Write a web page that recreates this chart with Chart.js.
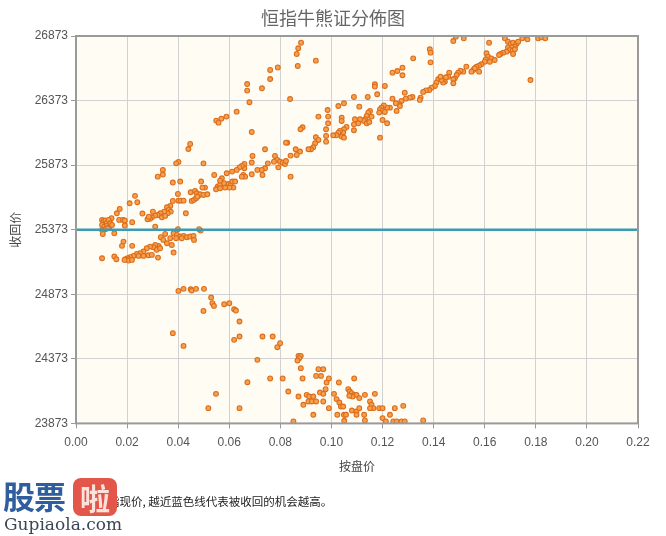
<!DOCTYPE html>
<html>
<head>
<meta charset="utf-8">
<script src="https://cdn.jsdelivr.net/npm/chart.js@4.4.1/dist/chart.umd.min.js"></script>
<style>
  html, body { margin: 0; padding: 0; background: #fff; }
  #wrap { position: relative; width: 666px; height: 536px; overflow: hidden; }
  #note {
    position: absolute; left: 108px; top: 493px;
    font: 11.5px 'Noto Sans CJK SC', sans-serif; color: #222; white-space: nowrap;
  }
  #logo { position: absolute; left: 3px; top: 476px; width: 116px; height: 60px; }
  #logo .gp { position: absolute; left: 0; top: 0; font: bold 32px 'Noto Sans CJK SC', sans-serif; color: #2f5d9e; letter-spacing: -1px; line-height: 38px; }
  #logo .la {
    position: absolute; left: 70px; top: 2px; width: 44px; height: 38px; border-radius: 8px;
    background: #e3574a; color: #fbe3dc; text-align: center;
    font: bold 30px 'Noto Sans CJK SC', sans-serif; line-height: 38px;
  }
  #logo .url { position: absolute; left: 1px; top: 38px; font: 17px 'DejaVu Serif', serif; color: #3a4656; letter-spacing: 0px; }
</style>
</head>
<body>
<div id="wrap">
  <canvas id="chart-cbbc" width="666" height="536"></canvas>
  <div id="note">指现价, 越近蓝色线代表被收回的机会越高。</div>
  <div id="logo"><span class="gp">股票</span><span class="la">啦</span><span class="url">Gupiaola.com</span></div>
</div>
<script>
// 收回价 vs 按盘价
const spotLevel = 25373;
const xTicks = [0, 0.02, 0.04, 0.06, 0.08, 0.10, 0.12, 0.14, 0.16, 0.18, 0.20, 0.22];
const yTicks = [23873, 24373, 24873, 25373, 25873, 26373, 26873];

// certificates with call level above the blue line
const bearPoints = [
  [0.0447,26037],[0.0440,25998],[0.0401,25898],[0.0392,25887],[0.0340,25836],[0.0340,25800],[0.0320,25784],
  [0.0379,25738],[0.0408,25746],[0.0541,25797],[0.0499,25887],[0.0490,25746],[0.0505,25699],[0.0495,25699],
  [0.0399,25650],[0.0449,25663],[0.0466,25673],[0.0473,25655],[0.0479,25635],[0.0486,25647],[0.0499,25642],
  [0.0514,25647],[0.0555,25707],[0.0548,25686],[0.0564,25720],[0.0231,25635],[0.0240,25586],[0.0210,25578],
  [0.0379,25596],[0.0401,25598],[0.0410,25598],[0.0421,25598],[0.0453,25596],[0.0462,25604],[0.0470,25616],
  [0.0475,25629],[0.0369,25557],[0.0356,25547],[0.0363,25526],[0.0371,25513],[0.0359,25500],[0.0345,25513],
  [0.0330,25500],[0.0320,25487],[0.0310,25482],[0.0297,25469],[0.0290,25457],[0.0280,25454],[0.0285,25474],
  [0.0301,25513],[0.0260,25498],[0.0171,25534],[0.0160,25500],[0.0139,25462],[0.0169,25449],[0.0184,25449],
  [0.0191,25444],[0.0191,25405],[0.0220,25431],[0.0336,25469],[0.0349,25480],[0.0430,25500],
  [0.0102,25449],[0.0108,25436],[0.0115,25444],[0.0121,25428],[0.0128,25449],[0.0134,25423],[0.0102,25410],
  [0.0111,25397],[0.0121,25402],[0.0131,25392],[0.0141,25410],[0.0115,25377],[0.0124,25384],[0.0310,25397],
  [0.0399,25377],[0.0482,25377],
  [0.0939,26682],[0.0868,26641],[0.0790,26630],[0.0760,26610],[0.0760,26540],[0.0670,26501],[0.0670,26450],
  [0.0728,26468],[0.0679,26360],[0.0838,26385],[0.0629,26287],[0.0589,26249],[0.0569,26233],[0.0549,26218],
  [0.0558,26202],[0.0688,26130],[0.0949,26249],[0.0985,26300],[0.0987,26249],[0.0987,26197],[0.0979,26151],
  [0.0979,26099],[0.0979,26055],[0.0887,26166],[0.0879,26151],[0.0939,26089],[0.0949,26068],[0.0936,26042],
  [0.0929,26011],[0.0920,25996],[0.0910,25996],[0.0877,25978],[0.0864,25952],[0.0860,25996],[0.0840,25947],
  [0.0827,26047],[0.0822,26047],[0.0740,25996],[0.0779,25944],[0.0788,25913],[0.0775,25900],[0.0799,25900],
  [0.0809,25892],[0.0818,25882],[0.0792,25856],[0.0822,25905],[0.0840,25784],[0.0751,25887],[0.0740,25849],
  [0.0727,25836],[0.0710,25836],[0.0688,25802],[0.0688,25893],[0.0691,25944],[0.0659,25882],[0.0659,25849],
  [0.0649,25867],[0.0640,25856],[0.0629,25836],[0.0611,25823],[0.0655,25797],[0.0662,25784],[0.0649,25784],
  [0.0730,25797],[0.0590,25810],[0.0571,25771],[0.0564,25753],[0.0580,25733],[0.0597,25727],[0.0606,25720],
  [0.0612,25746],[0.0623,25746],[0.0616,25699],[0.0601,25699],[0.0584,25699],[0.0564,25694],
  [0.1385,26770],[0.1388,26744],[0.1388,26669],[0.1320,26700],[0.1278,26628],[0.1258,26602],[0.1239,26589],
  [0.1278,26569],[0.1170,26499],[0.1170,26481],[0.1209,26486],[0.1179,26422],[0.1418,26538],[0.1411,26512],
  [0.1405,26486],[0.1392,26473],[0.1383,26455],[0.1370,26452],[0.1359,26440],[0.1349,26396],[0.1346,26378],
  [0.1317,26401],[0.1307,26396],[0.1291,26388],[0.1287,26434],[0.1274,26370],[0.1265,26344],[0.1252,26352],
  [0.1268,26331],[0.1255,26293],[0.1239,26388],[0.1229,26318],[0.1218,26318],[0.1205,26336],[0.1196,26318],
  [0.1190,26305],[0.1200,26293],[0.1187,26280],[0.1209,26285],[0.1218,26197],[0.1200,26223],[0.1190,26086],
  [0.1151,26293],[0.1144,26280],[0.1138,26254],[0.1132,26228],[0.1127,26215],[0.1138,26197],[0.1148,26207],
  [0.1157,26249],[0.1112,26228],[0.1105,26197],[0.1092,26228],[0.1088,26189],[0.1088,26143],[0.1059,26169],
  [0.1040,26241],[0.1040,26215],[0.1049,26151],[0.1046,26125],[0.1033,26138],[0.1027,26125],[0.1020,26104],
  [0.1040,26094],[0.1049,26086],[0.1027,26331],[0.1049,26352],[0.1088,26401],[0.1109,26326],[0.1142,26401],
  [0.1007,26104],[0.0881,26821],[0.0870,26778],[0.0864,26734],
  [0.1477,26834],[0.1487,26868],[0.1518,26855],[0.1617,26821],[0.1679,26855],[0.1747,26855],[0.1767,26847],
  [0.1809,26855],[0.1822,26863],[0.1837,26855],[0.1779,26532],[0.1691,26829],[0.1701,26811],[0.1711,26821],
  [0.1724,26811],[0.1731,26829],[0.1718,26790],[0.1705,26785],[0.1691,26785],[0.1698,26765],[0.1709,26759],
  [0.1718,26770],[0.1685,26752],[0.1672,26744],[0.1662,26734],[0.1656,26726],[0.1711,26734],[0.1607,26739],
  [0.1613,26713],[0.1604,26692],[0.1626,26700],[0.1639,26687],[0.1620,26674],[0.1600,26674],[0.1587,26654],
  [0.1578,26643],[0.1568,26636],[0.1555,26610],[0.1561,26623],[0.1578,26597],[0.1548,26597],[0.1528,26636],
  [0.1516,26597],[0.1505,26605],[0.1496,26589],[0.1490,26571],[0.1483,26545],[0.1477,26538],[0.1477,26507],
  [0.1461,26589],[0.1457,26558],[0.1448,26553],[0.1444,26520],[0.1437,26512],[0.1431,26532],[0.1427,26558],
];

// certificates with call level below the blue line
const bullPoints = [
  [0.0102,25371],[0.0105,25340],[0.0150,25345],[0.0488,25366],[0.0349,25340],[0.0382,25345],[0.0395,25333],
  [0.0408,25320],[0.0421,25325],[0.0434,25315],[0.0447,25320],[0.0460,25325],[0.0332,25315],[0.0342,25294],
  [0.0369,25307],[0.0392,25307],[0.0414,25307],[0.0462,25294],[0.0356,25268],[0.0375,25255],[0.0323,25248],
  [0.0310,25255],[0.0303,25237],[0.0290,25242],[0.0277,25229],[0.0264,25204],[0.0251,25191],[0.0238,25186],
  [0.0245,25170],[0.0225,25170],[0.0212,25160],[0.0202,25152],[0.0193,25144],[0.0206,25134],[0.0219,25139],
  [0.0264,25170],[0.0284,25175],[0.0297,25178],[0.0316,25217],[0.0329,25229],[0.0382,25196],[0.0321,25157],
  [0.0186,25281],[0.0180,25248],[0.0220,25248],[0.0190,25139],[0.0150,25165],[0.0158,25144],[0.0102,25152],
  [0.0401,24899],[0.0421,24915],[0.0449,24912],[0.0453,24902],[0.0470,24915],[0.0501,24915],[0.0529,24848],
  [0.0534,24804],[0.0540,24783],[0.0499,24744],[0.0580,24796],[0.0600,24804],[0.0619,24757],[0.0626,24747],
  [0.0640,24662],[0.0619,24520],[0.0640,24546],[0.0379,24572],[0.0421,24473],[0.0710,24365],[0.0671,24192],
  [0.0548,24102],[0.0518,23991],[0.0640,23991],[0.0730,24546],[0.0770,24546],
  [0.0799,24494],[0.0788,24463],[0.0871,24396],[0.0880,24396],[0.0874,24378],[0.0867,24360],[0.0880,24301],
  [0.0760,24221],[0.0809,24221],[0.0887,24221],[0.0831,24120],[0.0949,24293],[0.0968,24293],[0.0940,24241],
  [0.0959,24241],[0.0981,24190],[0.0990,24221],[0.0977,24138],[0.1029,24190],[0.1089,24221],[0.0871,24081],
  [0.0903,24094],[0.0913,24081],[0.0929,24081],[0.0910,24043],[0.0923,24043],[0.0940,24043],[0.0955,24112],
  [0.0968,24102],[0.0968,24043],[0.0890,24017],[0.0990,23991],[0.0929,23940],[0.0851,23888],[0.1010,24102],
  [0.1020,24061],[0.1031,24035],[0.1037,24004],[0.1046,24004],[0.1023,23940],[0.1049,23940],[0.1057,23940],
  [0.1050,23893],[0.1080,23973],[0.1098,23965],[0.1098,23940],[0.1109,23991],[0.1131,23896],[0.1066,24138],
  [0.1072,24120],[0.1079,24107],[0.1088,24094],[0.1098,24094],[0.1109,24069],[0.1083,24081],[0.1070,24087],
  [0.1131,24094],[0.1170,24102],[0.1151,24043],[0.1157,24017],[0.1164,23991],[0.1151,23991],[0.1187,23991],
  [0.1200,23991],[0.1248,23991],[0.1281,24009],[0.1229,23940],[0.1200,23914],[0.1213,23888],[0.1242,23888],
  [0.1255,23888],[0.1274,23888],[0.1287,23888],[0.1359,23896],[0.1128,23940],
];

const FONT_CJK = "'Noto Sans CJK SC', 'Liberation Sans', sans-serif";
const FONT_NUM = "'Liberation Sans', Arial, sans-serif";

const toXY = (pairs) => pairs.map(([x, y]) => ({ x, y }));

/**
 * Cream plot background and grey frame round the chart area
 */
const plotFrame = {
  id: 'plotFrame',
  beforeDraw(chart) {
    const { ctx, chartArea: a } = chart;
    ctx.save();
    ctx.fillStyle = '#fffdf3';
    ctx.fillRect(a.left, a.top, a.right - a.left, a.bottom - a.top);
    ctx.restore();
  },
  afterDraw(chart) {
    const { ctx, chartArea: a } = chart;
    ctx.save();
    ctx.strokeStyle = '#9a9a9a';
    ctx.lineWidth = 2;
    ctx.strokeRect(a.left, a.top, a.right - a.left, a.bottom - a.top);
    ctx.restore();
  },
};

const pointStyle = {
  pointRadius: 2.4,
  pointBorderWidth: 1.1,
  pointBackgroundColor: '#f6a04c',
  pointBorderColor: '#dc6d1c',
  order: 2,
};

new Chart(document.getElementById('chart-cbbc'), {
  type: 'scatter',
  data: {
    datasets: [
      { label: 'bear', data: toXY(bearPoints), ...pointStyle },
      { label: 'bull', data: toXY(bullPoints), ...pointStyle },
      {
        // current level line
        type: 'line',
        label: 'spot',
        data: [{ x: xTicks[0], y: spotLevel }, { x: xTicks[xTicks.length - 1], y: spotLevel }],
        borderColor: '#3a9bb3',
        borderWidth: 2.5,
        pointRadius: 0,
        order: 1,
      },
    ],
  },
  options: {
    responsive: false,
    animation: false,
    devicePixelRatio: 1,
    layout: { padding: { left: 0, right: 0, top: 0, bottom: 58 } },
    plugins: {
      legend: { display: false },
      tooltip: { enabled: false },
      title: {
        display: true,
        text: '恒指牛熊证分佈图',
        color: '#666',
        font: { family: FONT_CJK, size: 18, weight: 'normal', lineHeight: 1.2 },
        padding: { top: 7, bottom: 7.4 },
      },
    },
    scales: {
      x: {
        type: 'linear',
        min: xTicks[0],
        max: xTicks[xTicks.length - 1],
        afterBuildTicks: (scale) => { scale.ticks = xTicks.map((v) => ({ value: v })); },
        afterFit: (scale) => { scale.height = 54.6; },
        ticks: {
          callback: (v) => Number(v).toFixed(2),
          color: '#555',
          font: { family: FONT_NUM, size: 12 },
          padding: 7,
          maxRotation: 0,
        },
        grid: { color: '#d2d2d2', tickColor: '#999', tickLength: 5 },
        border: { display: false },
        title: {
          display: true,
          text: '按盘价',
          color: '#444',
          font: { family: FONT_CJK, size: 12 },
          padding: { top: 4, bottom: 4 },
        },
      },
      y: {
        type: 'linear',
        min: yTicks[0],
        max: yTicks[yTicks.length - 1],
        afterBuildTicks: (scale) => { scale.ticks = yTicks.map((v) => ({ value: v })); },
        afterFit: (scale) => { scale.width = 76; },
        ticks: {
          callback: (v) => String(v),
          color: '#555',
          font: { family: FONT_NUM, size: 12 },
          padding: 3,
        },
        grid: { color: '#d2d2d2', tickColor: '#999', tickLength: 5 },
        border: { display: false },
        title: {
          display: true,
          text: '收回价',
          color: '#444',
          font: { family: FONT_CJK, size: 12 },
          padding: { top: 8, bottom: 4 },
        },
      },
      // empty spacer on the right so the title stays centred on the page
      spacer: {
        type: 'linear',
        position: 'right',
        min: yTicks[0],
        max: yTicks[yTicks.length - 1],
        grid: { display: false },
        ticks: { display: false },
        border: { display: false },
        afterFit: (scale) => { scale.width = 28; },
      },
    },
  },
  plugins: [plotFrame],
});
</script>
</body>
</html>
